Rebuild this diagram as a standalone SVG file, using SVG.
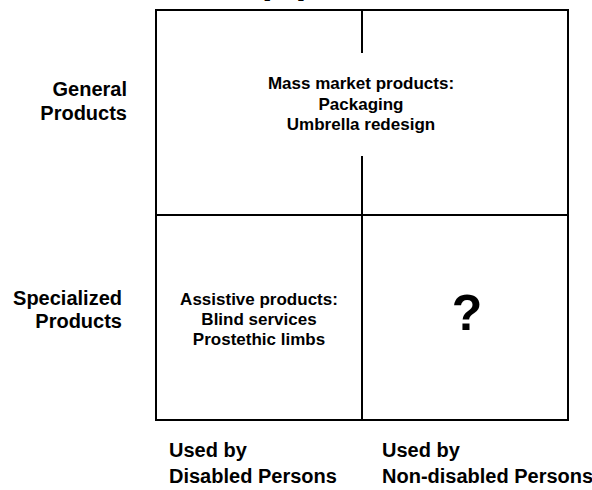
<svg xmlns="http://www.w3.org/2000/svg" width="592" height="490" viewBox="0 0 592 490">
<style>
.ln{stroke:#000;stroke-width:2;fill:none}
.t{font-family:"Liberation Sans",Arial,sans-serif;font-weight:bold;fill:#000}
.c{font-size:17px;text-anchor:middle}
.ax{font-size:20px}
</style>
<rect width="592" height="490" fill="#fff"/>
<text class="t" x="284" y="-3" font-size="20" text-anchor="middle">[ ... ]</text>
<g id="grid">
<rect class="ln" x="156" y="10" width="412" height="410"/>
<line class="ln" x1="156" y1="215" x2="568" y2="215"/>
<line class="ln" x1="362" y1="215" x2="362" y2="420"/>
</g>
<g id="connectors">
<line class="ln" x1="362" y1="10" x2="362" y2="53"/>
<line class="ln" x1="362" y1="156" x2="362" y2="215"/>
</g>
<g id="mass-market">
<text class="t c" x="361" y="89">Mass market products:</text>
<text class="t c" x="361" y="110">Packaging</text>
<text class="t c" x="361" y="130">Umbrella redesign</text>
</g>
<g id="assistive">
<text class="t c" x="259" y="305">Assistive products:</text>
<text class="t c" x="259" y="325">Blind services</text>
<text class="t c" x="259" y="345">Prostethic limbs</text>
</g>
<g id="unknown">
<text class="t" x="467" y="330" font-size="50" text-anchor="middle">?</text>
</g>
<g id="general-label">
<text class="t ax" x="127" y="96" text-anchor="end">General</text>
<text class="t ax" x="127" y="120" text-anchor="end">Products</text>
</g>
<g id="specialized-label">
<text class="t ax" x="122" y="305" text-anchor="end">Specialized</text>
<text class="t ax" x="122" y="328" text-anchor="end">Products</text>
</g>
<g id="disabled-label">
<text class="t ax" x="169" y="457">Used by</text>
<text class="t ax" x="169" y="483">Disabled Persons</text>
</g>
<g id="nondisabled-label">
<text class="t ax" x="382" y="457">Used by</text>
<text class="t ax" x="382" y="483">Non-disabled Persons</text>
</g>
</svg>
